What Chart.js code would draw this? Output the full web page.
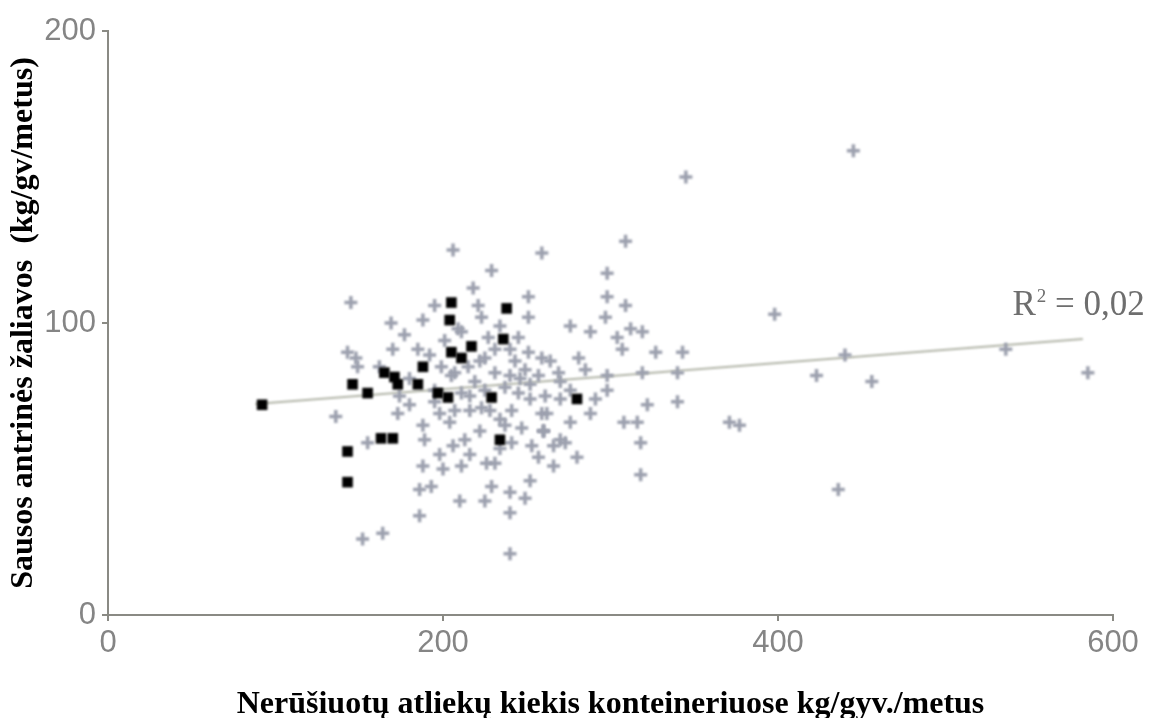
<!DOCTYPE html>
<html>
<head>
<meta charset="utf-8">
<script src="https://cdn.jsdelivr.net/npm/chart.js@4.4.1/dist/chart.umd.min.js"></script>
<style>
  html, body { margin: 0; padding: 0; background: #ffffff; }
  #wrap { width: 1152px; height: 718px; }
</style>
</head>
<body>
<div id="wrap"><canvas id="chart" width="1152" height="718"></canvas></div>
<script>
// Municipalities: mixed-waste amount (x) vs. dry secondary raw materials (y)
const grayX = [445, 345, 206, 259, 309, 229, 298, 218, 298, 309, 251, 195, 221, 145, 188, 223, 251, 169,
  297, 276, 288, 304, 312, 319, 398, 177, 201, 227, 245, 170, 185, 143, 148, 251, 225, 243, 259, 264,
  307, 327, 281, 343, 149, 162, 199, 215, 249, 231, 257, 205, 219, 237, 195, 211, 245, 269, 270, 298,
  319, 340, 298, 423, 440, 456, 585, 536, 371, 377, 436, 136, 155, 152, 164, 173, 188, 189, 204, 206,
  198, 188, 200, 211, 226, 231, 186, 193, 210, 225, 229, 240, 249, 252, 240, 186, 240, 241, 247, 257,
  253, 322, 308, 316, 318, 318, 280, 266, 266, 273, 260, 262, 276, 288, 195, 223, 241, 259, 340,
  209, 234, 240, 216, 228, 207, 252, 261, 234, 222, 213, 234, 246, 225, 270, 276, 198, 180, 174,
  211, 231, 222, 207, 240, 252, 216, 237, 260, 270, 291, 285, 192, 180, 216];
const grayY = [159, 150, 125, 124, 128, 118, 117, 112, 109, 106, 109, 106, 106, 107, 101, 102, 102, 100,
  102, 99, 97, 95, 98, 97, 103, 96, 94, 95, 95, 91, 91, 90, 88, 90, 88, 87, 88, 87,
  91, 90, 88, 90, 85, 85, 85, 85, 84, 83, 82, 82, 80, 78, 77, 76, 76, 83, 80, 82,
  83, 83, 77, 82, 89, 80, 83, 91, 66, 65, 43, 68, 59, 26, 28, 69, 65, 60, 66, 58,
  55, 51, 50, 51, 52, 52, 43, 44, 39, 39, 44, 42, 40, 46, 35, 34, 21, 59, 64, 54,
  58, 72, 66, 66, 59, 48, 54, 51, 58, 59, 63, 69, 66, 69, 73, 71, 70, 69, 73,
  98, 99, 91, 75, 70, 70, 74, 75, 67, 63, 60, 57, 81, 77, 74, 77, 69, 81, 75,
  97, 91, 87, 83, 82, 79, 70, 65, 63, 60, 74, 84, 89, 72, 55];

const blackX = [92, 205, 204, 238, 236, 217, 205, 211, 188, 171, 173, 185, 197, 203, 229, 146, 155, 165,
  280, 143, 143, 163, 170, 234];
const blackY = [72, 107, 101, 105, 94.5, 92, 90, 88, 85, 81.5, 79, 79, 76, 74.5, 74.5, 79, 76, 83,
  74, 56, 45.5, 60.5, 60.5, 60];

// Linear trend line end points
const trendX = [88, 582];
const trendY = [72.3, 94.5];
const rSquared = 0.02;

const xTicks = [0, 200, 400, 600];
const yTicks = [0, 100, 200];

const xTitle = 'Nerūšiuotų atliekų kiekis konteineriuose kg/gyv./metus';
const yTitle = 'Sausos antrinės žaliavos  (kg/gv/metus)';

const pairs = (xs, ys) => xs.map((x, i) => ({ x, y: ys[i] }));

// Slight softening of the plotted marks
const softMarks = {
  id: 'softMarks',
  beforeDatasetsDraw(chart) { chart.ctx.save(); chart.ctx.filter = 'blur(0.8px)'; },
  afterDatasetsDraw(chart) { chart.ctx.restore(); }
};

// Coefficient of determination next to the trend line
const r2Label = {
  id: 'r2Label',
  afterDatasetsDraw(chart) {
    const { ctx, scales: { x, y } } = chart;
    const px = x.getPixelForValue(540);
    const py = y.getPixelForValue(102.7);
    ctx.save();
    ctx.filter = 'blur(0.5px)';
    ctx.fillStyle = '#6e6e6e';
    ctx.textBaseline = 'alphabetic';
    ctx.textAlign = 'left';
    ctx.font = '35px "Liberation Serif"';
    ctx.fillText('R', px, py);
    const w = ctx.measureText('R').width;
    ctx.font = '19px "Liberation Serif"';
    ctx.fillText('2', px + w + 1, py - 13);
    const w2 = ctx.measureText('2').width;
    ctx.font = '35px "Liberation Serif"';
    ctx.fillText(' = ' + rSquared.toFixed(2).replace('.', ','), px + w + 1 + w2, py);
    ctx.restore();
  }
};

const axisColor = '#8a8a84';
const tickFont = { family: '"Liberation Sans", Arial, sans-serif', size: 31 };
const titleFont = { family: '"Liberation Serif", "Times New Roman", serif', size: 32, weight: 'bold', lineHeight: 0.8 };

new Chart(document.getElementById('chart'), {
  type: 'scatter',
  data: {
    datasets: [
      {
        label: 'black',
        data: pairs(blackX, blackY),
        pointStyle: 'rect',
        pointRadius: 7.5,
        pointHoverRadius: 7.5,
        backgroundColor: '#000000',
        borderColor: '#000000',
        borderWidth: 0
      },
      {
        label: 'gray',
        data: pairs(grayX, grayY),
        pointStyle: 'cross',
        pointRadius: 6.5,
        pointHoverRadius: 6.5,
        borderColor: '#9ca0ae',
        borderWidth: 3.5
      },
      {
        label: 'trend',
        type: 'line',
        data: pairs(trendX, trendY),
        borderColor: '#b0b3a6',
        borderWidth: 2,
        pointRadius: 0,
        fill: false
      }
    ]
  },
  options: {
    responsive: false,
    animation: false,
    devicePixelRatio: 1,
    layout: { padding: { top: 31, right: 39, left: 0, bottom: 0 } },
    plugins: { legend: { display: false }, tooltip: { enabled: false } },
    scales: {
      x: {
        type: 'linear',
        min: 0,
        max: 600,
        afterBuildTicks(scale) { scale.ticks = xTicks.map(v => ({ value: v })); },
        afterFit(scale) { scale.height = 103; },
        grid: { display: true, drawOnChartArea: false, drawTicks: true, tickLength: 6, color: axisColor, lineWidth: 2 },
        border: { display: true, color: axisColor, width: 2 },
        ticks: { color: '#858585', font: tickFont, padding: 4, maxRotation: 0 },
        title: { display: true, text: xTitle, color: '#000000', font: titleFont, padding: { top: 0, bottom: 0 } }
      },
      y: {
        type: 'linear',
        min: 0,
        max: 200,
        afterBuildTicks(scale) { scale.ticks = yTicks.map(v => ({ value: v })); },
        afterFit(scale) { scale.width = 108; },
        grid: { display: true, drawOnChartArea: false, drawTicks: true, tickLength: 6, color: axisColor, lineWidth: 2 },
        border: { display: true, color: axisColor, width: 2 },
        ticks: { color: '#858585', font: tickFont, padding: 6 },
        title: { display: true, text: yTitle, color: '#000000', font: titleFont, padding: { top: 11, bottom: 0 } }
      }
    }
  },
  plugins: [softMarks, r2Label]
});
</script>
</body>
</html>
